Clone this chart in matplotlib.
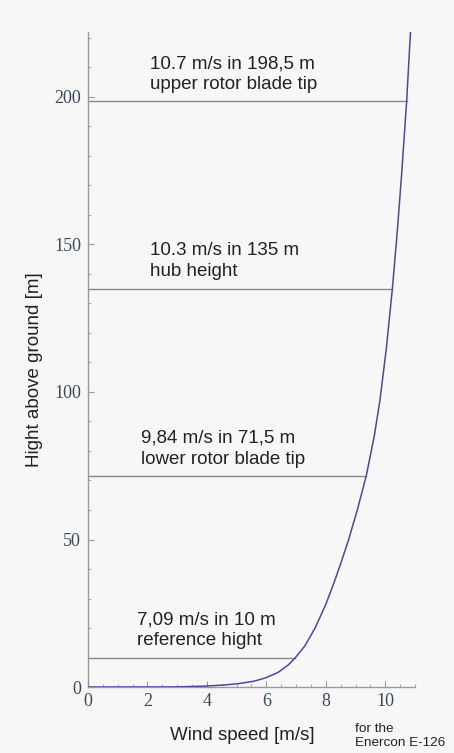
import matplotlib
matplotlib.use('Agg')
import matplotlib.pyplot as plt
from matplotlib.ticker import MultipleLocator

# wind profile: speed [m/s] vs height [m]
speed = [0.0, 3.0, 3.9, 4.6, 5.1, 5.6, 6.0, 6.4, 6.74, 6.98, 7.3, 7.64, 8.0, 8.3,
         8.54, 8.77, 9.06, 9.36, 9.63, 9.82, 10.04, 10.24, 10.41, 10.56, 10.72, 10.85]
height = [0.0, 0.05, 0.3, 0.7, 1.2, 2.0, 3.2, 5.0, 7.5, 10.0, 14.0, 20.0, 28.0, 36.0,
          43.0, 50.0, 60.0, 71.5, 85.0, 97.0, 115.0, 135.0, 155.0, 175.0, 198.5, 222.0]

# marked heights and where the horizontal line meets the curve
mark_h = [198.5, 135, 71.5, 10]
mark_v = [10.72, 10.24, 9.36, 6.98]
mark_text = ['10.7 m/s in 198,5 m\nupper rotor blade tip',
             '10.3 m/s in 135 m\nhub height',
             '9,84 m/s in 71,5 m\nlower rotor blade tip',
             '7,09 m/s in 10 m\nreference hight']
text_x = [2.1, 2.1, 1.78, 1.65]

bg = '#f7f7f7'
fig = plt.figure(figsize=(4.54, 7.53), dpi=100, facecolor=bg)
ax = fig.add_axes([0.1938, 0.0876, 0.914 - 0.1938, 0.9575 - 0.0876], facecolor=bg)

for h, v in zip(mark_h, mark_v):
    ax.plot([0, v], [h, h], color='#8a8a8a', lw=1.0, zorder=2)
ax.plot(speed, height, color='#4a4a9a', lw=1.1, zorder=3)

for h, t, tx in zip(mark_h, mark_text, text_x):
    ax.annotate(t, xy=(tx, h), xytext=(0, 6), textcoords='offset points',
                ha='left', va='bottom', fontsize=13.5, family='Liberation Sans',
                color='#222222', linespacing=1.3)

ax.set_xlim(0, 11)
ax.set_ylim(0, 222)
ax.xaxis.set_major_locator(MultipleLocator(2))
ax.xaxis.set_minor_locator(MultipleLocator(0.5))
ax.yaxis.set_major_locator(MultipleLocator(50))
ax.yaxis.set_minor_locator(MultipleLocator(10))
ax.tick_params(which='both', direction='in', color='#999999', labelcolor='#3a4a5a',
               labelsize=13)
ax.tick_params(axis='y', pad=5)
ax.tick_params(axis='x', pad=4)
ax.tick_params(which='major', length=4)
ax.tick_params(which='minor', length=2)
for lab in ax.get_xticklabels() + ax.get_yticklabels():
    lab.set_family('Liberation Serif')

for s in ['top', 'right']:
    ax.spines[s].set_visible(False)
for s in ['left', 'bottom']:
    ax.spines[s].set_color('#999999')
    ax.spines[s].set_linewidth(1.0)

fig.text(242 / 454, 1 - 735 / 753, 'Wind speed [m/s]', fontsize=13.5,
         family='Liberation Sans', color='#222222', ha='center', va='center')
fig.text(35 / 454, 1 - 370 / 753, 'Hight above ground [m]', fontsize=13.5,
         family='Liberation Sans', color='#222222', ha='center', va='center',
         rotation=90)
fig.text(355 / 454, 1 - 749 / 753, 'for the\nEnercon E-126', fontsize=9.7,
         family='Liberation Sans', color='#222222', ha='left', va='bottom',
         linespacing=1.2)

fig.savefig('out.png', dpi=100, facecolor=bg)
